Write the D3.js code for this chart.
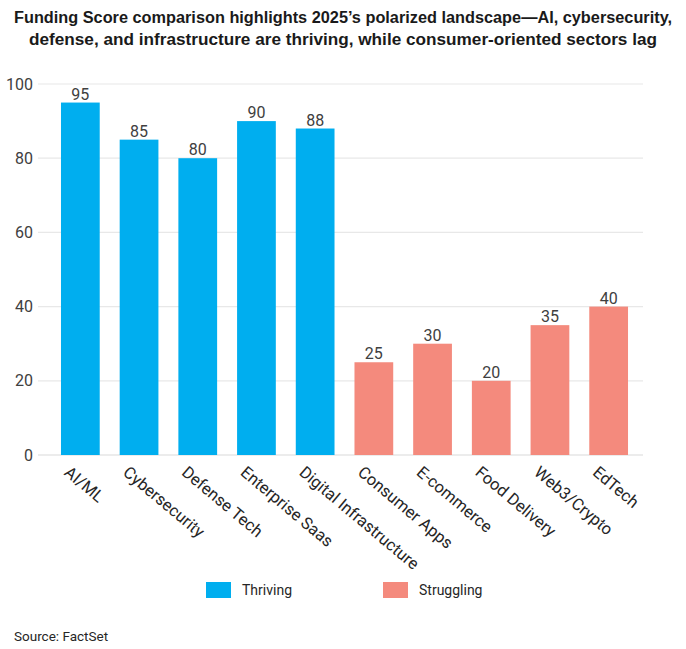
<!DOCTYPE html>
<html>
<head>
<meta charset="utf-8">
<script src="https://cdn.jsdelivr.net/npm/d3@7"></script>
<style>
  body { margin: 0; background: #fff; }
  svg { display: block; font-family: Roboto, "Liberation Sans", Arial, sans-serif; }
</style>
</head>
<body>
<svg id="chart" width="686" height="649"></svg>
<script>
// Chart data
const sectors = ['AI/ML', 'Cybersecurity', 'Defense Tech', 'Enterprise Saas', 'Digital Infrastructure',
    'Consumer Apps', 'E-commerce', 'Food Delivery', 'Web3/Crypto', 'EdTech'];
const scores = [95, 85, 80, 90, 88, 25, 30, 20, 35, 40];
const groups = ['Thriving', 'Thriving', 'Thriving', 'Thriving', 'Thriving',
    'Struggling', 'Struggling', 'Struggling', 'Struggling', 'Struggling'];
const legendNames = ['Thriving', 'Struggling'];
const yTicks = [0, 20, 40, 60, 80, 100];
const titleLines = [
    'Funding Score comparison highlights 2025\u2019s polarized landscape\u2014AI, cybersecurity,',
    'defense, and infrastructure are thriving, while consumer-oriented sectors lag'
];

const colors = { Thriving: '#00aeef', Struggling: '#f48a7d' };

const svg = d3.select('#chart');

// Plot area
const plotLeft = 51, plotRight = 638, plotTop = 84, plotBottom = 455;

const x = d3.scaleBand()
    .domain(sectors)
    .range([plotLeft, plotRight])
    .paddingInner(0.34)
    .paddingOuter(0.17);

const y = d3.scaleLinear()
    .domain([0, 100])
    .range([plotBottom, plotTop]);

// Title
svg.append('g')
    .selectAll('text')
    .data(titleLines)
    .join('text')
    .attr('x', 343)
    .attr('y', (d, i) => 23 + i * 22)
    .attr('text-anchor', 'middle')
    .attr('font-family', '"Liberation Sans", Arial, sans-serif')
    .attr('font-size', 16)
    .attr('font-weight', 'bold')
    .attr('fill', '#1a1a1a')
    .attr('textLength', (d, i) => i === 0 ? 658 : 628)
    .attr('lengthAdjust', 'spacingAndGlyphs')
    .text(d => d);

// Gridlines
svg.append('g')
    .selectAll('line')
    .data(yTicks)
    .join('line')
    .attr('x1', 38)
    .attr('x2', 643)
    .attr('y1', d => y(d))
    .attr('y2', d => y(d))
    .attr('stroke', d => d === 0 ? '#d9d9d9' : '#e8e8e8')
    .attr('stroke-width', 1.2);

// Y axis labels
svg.append('g')
    .selectAll('text')
    .data(yTicks)
    .join('text')
    .attr('x', 33)
    .attr('y', d => y(d))
    .attr('dy', '0.35em')
    .attr('text-anchor', 'end')
    .attr('font-size', 16)
    .attr('fill', '#404040')
    .text(d => d);

// Bars
svg.append('g')
    .selectAll('rect')
    .data(sectors)
    .join('rect')
    .attr('x', d => x(d))
    .attr('width', x.bandwidth())
    .attr('y', (d, i) => y(scores[i]))
    .attr('height', (d, i) => y(0) - y(scores[i]))
    .attr('fill', (d, i) => colors[groups[i]]);

// Value labels
svg.append('g')
    .selectAll('text')
    .data(sectors)
    .join('text')
    .attr('x', d => x(d) + x.bandwidth() / 2)
    .attr('y', (d, i) => y(scores[i]) - 3)
    .attr('text-anchor', 'middle')
    .attr('font-size', 16)
    .attr('fill', '#404040')
    .text((d, i) => scores[i]);

// Category labels (rotated)
svg.append('g')
    .selectAll('text')
    .data(sectors)
    .join('text')
    .attr('transform', d => `translate(${x(d) + x.bandwidth() / 2 - 17},474) rotate(40)`)
    .attr('font-size', 16.5)
    .attr('fill', '#262626')
    .text(d => d);

// Legend
const legend = svg.append('g')
    .selectAll('g')
    .data(legendNames)
    .join('g')
    .attr('transform', (d, i) => `translate(${206 + i * 177},582)`);

legend.append('rect')
    .attr('width', 25)
    .attr('height', 16)
    .attr('fill', d => colors[d]);

legend.append('text')
    .attr('x', 36)
    .attr('y', 8)
    .attr('dy', '0.35em')
    .attr('font-size', 14)
    .attr('fill', '#262626')
    .text(d => d);

// Source note
svg.append('text')
    .attr('x', 14)
    .attr('y', 641)
    .attr('font-size', 13.5)
    .attr('fill', '#262626')
    .text('Source: FactSet');
</script>
</body>
</html>
